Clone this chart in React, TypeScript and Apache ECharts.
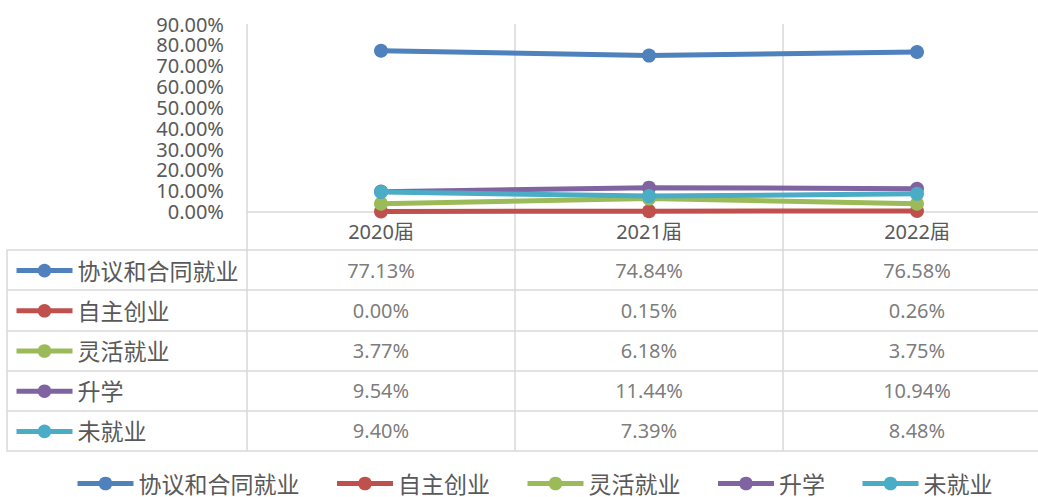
import React, { useEffect, useRef } from "react";
import * as echarts from "echarts";

const categories = ["2020届", "2021届", "2022届"];
const seriesNames = ["协议和合同就业", "自主创业", "灵活就业", "升学", "未就业"];
const agreementJobs = [77.13, 74.84, 76.58];
const selfEmployed = [0.0, 0.15, 0.26];
const flexibleJobs = [3.77, 6.18, 3.75];
const furtherStudy = [9.54, 11.44, 10.94];
const unemployed = [9.4, 7.39, 8.48];
const yTicks = { min: 0, max: 90, interval: 10 };

const colors = ["#4F81BD", "#C0504D", "#9BBB59", "#8064A2", "#4BACC6"];
const seriesValues = [agreementJobs, selfEmployed, flexibleJobs, furtherStudy, unemployed];

const FONT = "'Noto Sans', 'Noto Sans CJK SC', sans-serif";
const TEXT = "#595959";
const GRID_LINE = "#D9D9D9";

export default function App() {
  const ref = useRef<HTMLDivElement>(null);
  useEffect(() => {
    if (!ref.current) return;
    const chart = echarts.init(ref.current, null, { renderer: "svg" });

    const lineSeries = seriesNames.map((name, i) => ({
      name,
      type: "line",
      xAxisIndex: 0,
      yAxisIndex: 0,
      data: seriesValues[i],
      symbol: "circle",
      symbolSize: 14,
      clip: false,
      lineStyle: { color: colors[i], width: 5 },
      itemStyle: { color: colors[i] },
      z: 3 + i,
    }));

    const tableData: any[] = [];
    seriesValues.forEach((vals, r) => {
      vals.forEach((v, c) => tableData.push([c, r, v]));
    });

    chart.setOption({
      animation: false,
      textStyle: { fontFamily: FONT, color: TEXT },
      grid: [
        { left: 247, top: 24, right: 0, height: 187.5 },
        { left: 247, top: 250, right: 0, height: 201 },
      ],
      xAxis: [
        {
          type: "category",
          gridIndex: 0,
          data: categories,
          boundaryGap: true,
          axisLine: { show: true, lineStyle: { color: GRID_LINE, width: 1.5 } },
          axisTick: { show: true, interval: 0, length: 38.5, lineStyle: { color: GRID_LINE, width: 1.5 } },
          splitLine: { show: true, interval: 0, lineStyle: { color: GRID_LINE, width: 1.5 } },
          axisLabel: { interval: 0, margin: 9, fontSize: 20, lineHeight: 22, color: TEXT, fontFamily: FONT },
        },
        {
          type: "category",
          gridIndex: 1,
          data: categories,
          boundaryGap: true,
          axisLine: { show: false },
          axisTick: { show: false },
          axisLabel: { show: false },
          splitLine: { show: true, interval: 0, lineStyle: { color: GRID_LINE, width: 1.5 } },
        },
      ],
      yAxis: [
        {
          type: "value",
          gridIndex: 0,
          min: yTicks.min,
          max: yTicks.max,
          interval: yTicks.interval,
          axisLine: { show: false },
          axisTick: { show: false },
          splitLine: { show: false },
          axisLabel: {
            margin: 23,
            fontSize: 20,
            lineHeight: 20,
            color: TEXT,
            fontFamily: FONT,
            formatter: (v: number) => v.toFixed(2) + "%",
          },
        },
        {
          type: "category",
          gridIndex: 1,
          data: seriesNames,
          inverse: true,
          boundaryGap: true,
          offset: 240,
          axisLine: { show: true, lineStyle: { color: GRID_LINE, width: 1.5 } },
          axisTick: { show: true, inside: true, interval: 0, length: 240, lineStyle: { color: GRID_LINE, width: 1.5 } },
          axisLabel: { show: false },
          splitLine: { show: true, interval: 0, lineStyle: { color: GRID_LINE, width: 1.5 } },
        },
      ],
      legend: [
        {
          data: seriesNames,
          orient: "vertical",
          left: 14,
          top: 258.6,
          padding: 0,
          itemWidth: 56,
          itemHeight: 17,
          itemGap: 16.2,
          lineStyle: { width: 5 },
          selectedMode: false,
          textStyle: { fontSize: 23, lineHeight: 24, color: TEXT, fontFamily: FONT },
        },
        {
          data: seriesNames,
          orient: "horizontal",
          left: 75,
          top: 472,
          padding: 0,
          itemWidth: 56,
          itemHeight: 17,
          itemGap: 35,
          lineStyle: { width: 5 },
          selectedMode: false,
          textStyle: { fontSize: 23, lineHeight: 23, color: TEXT, fontFamily: FONT },
        },
      ],
      series: [
        ...lineSeries,
        {
          name: "table",
          type: "scatter",
          xAxisIndex: 1,
          yAxisIndex: 1,
          data: tableData,
          symbolSize: 0,
          silent: true,
          label: {
            show: true,
            position: "inside",
            fontSize: 20,
            color: TEXT,
            fontFamily: FONT,
            formatter: (p: any) => (p.value[2] as number).toFixed(2) + "%",
          },
        },
      ],
    });
    return () => chart.dispose();
  }, []);
  return (
    <div
      ref={ref}
      style={{ position: "fixed", left: 0, top: 0, width: 1051, height: 497, background: "#fff" }}
    />
  );
}
